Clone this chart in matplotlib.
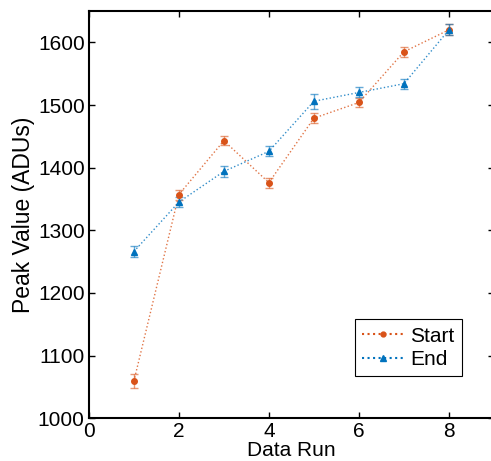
import matplotlib.pyplot as plt
from matplotlib.lines import Line2D

plt.rcParams['font.family'] = ['Liberation Sans', 'DejaVu Sans']

# Data
runs = [1, 2, 3, 4, 5, 6, 7, 8]
start_peak = [1059, 1357, 1443, 1376, 1479, 1504, 1585, 1620]
start_err = [11, 8, 7, 8, 8, 7, 8, 9]
end_peak = [1266, 1345, 1394, 1426, 1506, 1520, 1534, 1620]
end_err = [9, 8, 9, 8, 12, 8, 8, 9]

orange = '#D95319'
blue = '#0072BD'

fig = plt.figure(figsize=(4.91, 4.61), dpi=100)
ax = fig.add_axes([0.181, 0.093, 0.825, 0.883])

for y, err, col, mk, ms in [(start_peak, start_err, orange, 'o', 4),
                            (end_peak, end_err, blue, '^', 5)]:
    ax.errorbar(runs, y, yerr=err, fmt='none', ecolor=col, elinewidth=1.0,
                capsize=3, capthick=1.0, alpha=0.6, zorder=2)
    ax.plot(runs, y, linestyle=':', color=col, linewidth=1.0, alpha=0.8, zorder=3)
    ax.plot(runs, y, linestyle='none', marker=mk, markersize=ms, color=col, zorder=4)

# legend proxies
handles = [Line2D([], [], linestyle=':', color=orange, marker='o', markersize=3.5),
           Line2D([], [], linestyle=':', color=blue, marker='^', markersize=4.5)]
leg = ax.legend(handles, ['Start', 'End'], loc='lower left',
                bbox_to_anchor=(0.657, 0.103), fontsize=15, fancybox=False,
                framealpha=1, edgecolor='black', borderpad=0.35,
                handlelength=2.0, handletextpad=0.3, labelspacing=0.2,
                borderaxespad=0)
leg.get_frame().set_linewidth(0.8)

ax.set_xlim(0, 9)
ax.set_ylim(1000, 1650)
ax.set_xticks([0, 2, 4, 6, 8])
ax.set_yticks([1000, 1100, 1200, 1300, 1400, 1500, 1600])
ax.tick_params(direction='in', top=True, right=True, labelsize=15,
               length=4, width=1, pad=3)
for s in ax.spines.values():
    s.set_linewidth(1.5)

ax.set_xlabel('Data Run', fontsize=15, labelpad=0)
ax.set_ylabel('Peak Value (ADUs)', fontsize=16.5, labelpad=2)

plt.savefig('out.png', dpi=100)
